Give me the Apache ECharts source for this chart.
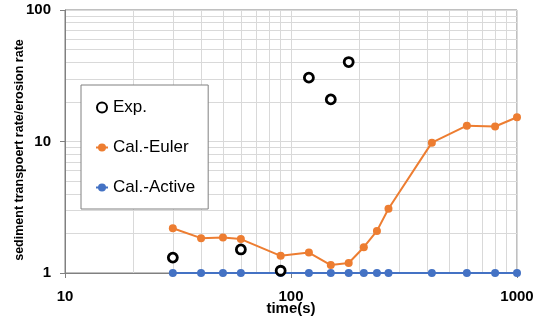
<!DOCTYPE html>
<html><head><meta charset="utf-8">
<script src="https://cdn.jsdelivr.net/npm/echarts@6/dist/echarts.min.js"></script>
<style>html,body{margin:0;padding:0;background:#fff}#c{width:538px;height:321px}</style>
</head><body><div id="c"></div>
<script>
const times = [30, 40, 50, 60, 90, 120, 150, 180, 210, 240, 270, 420, 600, 800, 1000];
const eulerValues = [2.19, 1.84, 1.86, 1.81, 1.35, 1.43, 1.15, 1.19, 1.57, 2.09, 3.08, 9.8, 13.2, 13.0, 15.3];
const activeValues = [1, 1, 1, 1, 1, 1, 1, 1, 1, 1, 1, 1, 1, 1, 1];
const expTimes = [30, 60, 90, 120, 150, 180];
const expValues = [1.31, 1.51, 1.04, 30.6, 20.9, 40.2];
const seriesNames = ['Exp.', 'Cal.-Euler', 'Cal.-Active'];
const xMin = 10, xMax = 1000, yMin = 1, yMax = 100;

const FONT = '"Liberation Sans", Arial, sans-serif';
const GRID = '#d9d9d9';
const AXIS = '#808080';

// minor log gridlines (2..9 within each decade)
function minorValues(lo, hi) {
  const out = [];
  for (let d = lo; d < hi; d *= 10) for (let k = 2; k <= 9; k++) out.push(d * k);
  return out;
}
const minorX = minorValues(xMin, xMax).map(v => ({ xAxis: v }));
const minorY = minorValues(yMin, yMax).map(v => ({ yAxis: v }));

const chart = echarts.init(document.getElementById('c'), null, { renderer: 'canvas' });
chart.setOption({
  animation: false,
  backgroundColor: '#fff',
  textStyle: { fontFamily: FONT },
  grid: { left: 65, right: 21, top: 10, bottom: 48, show: true, borderColor: AXIS, borderWidth: 1, backgroundColor: 'transparent', containLabel: false, outerBoundsMode: 'none' },
  legend: {
    data: seriesNames,
    orient: 'vertical', left: 81, top: 85, z: 10,
    backgroundColor: '#fff', borderColor: AXIS, borderWidth: 1,
    padding: [14, 13, 13, 14],
    itemWidth: 12, itemHeight: 10, itemGap: 23,
    textStyle: { fontSize: 17, color: '#000', fontFamily: FONT }
  },
  xAxis: {
    type: 'log', logBase: 10, min: xMin, max: xMax,
    axisLine: { show: true, lineStyle: { color: AXIS } },
    axisTick: { show: true, length: 5, lineStyle: { color: AXIS } },
    splitLine: { show: true, lineStyle: { color: GRID } },
    axisLabel: { color: '#000', fontWeight: 'bold', fontSize: 15, margin: 16, fontFamily: FONT, formatter: v => String(v) },
    name: 'time(s)', nameLocation: 'middle', nameGap: 28, nameMoveOverlap: false,
    nameTextStyle: { color: '#000', fontWeight: 'bold', fontSize: 15, fontFamily: FONT }
  },
  yAxis: {
    type: 'log', logBase: 10, min: yMin, max: yMax,
    axisLine: { show: true, lineStyle: { color: AXIS } },
    axisTick: { show: true, length: 5, lineStyle: { color: AXIS } },
    splitLine: { show: true, lineStyle: { color: GRID } },
    axisLabel: { color: '#000', fontWeight: 'bold', fontSize: 15, margin: 14, fontFamily: FONT, formatter: v => String(v) },
    name: 'sediment transpoert rate/erosion rate', nameLocation: 'middle', nameGap: 39, nameMoveOverlap: false,
    nameTextStyle: { color: '#000', fontWeight: 'bold', fontSize: 12.5, fontFamily: FONT, padding: [0, 17, 0, 0] }
  },
  series: [
    {
      name: 'minor', type: 'line', data: [], z: 0, silent: true,
      markLine: {
        z: 0, silent: true, symbol: ['none', 'none'], label: { show: false }, animation: false,
        lineStyle: { color: GRID, type: 'solid', width: 1 },
        data: minorX.concat(minorY)
      }
    },
    {
      name: seriesNames[1], type: 'line', clip: false,
      data: times.map((t, i) => [t, eulerValues[i]]),
      symbol: 'circle', symbolSize: 8,
      itemStyle: { color: '#ED7D31' }, lineStyle: { color: '#ED7D31', width: 2 }
    },
    {
      name: seriesNames[2], type: 'line', clip: false,
      data: times.map((t, i) => [t, activeValues[i]]),
      symbol: 'circle', symbolSize: 8,
      itemStyle: { color: '#4472C4' }, lineStyle: { color: '#4472C4', width: 2 }
    },
    {
      name: seriesNames[0], type: 'scatter', clip: false, z: 5,
      data: expTimes.map((t, i) => [t, expValues[i]]),
      symbol: 'circle', symbolSize: 9,
      itemStyle: { color: '#fff', borderColor: '#000', borderWidth: 2.8, opacity: 1 }
    }
  ]
});
</script></body></html>
